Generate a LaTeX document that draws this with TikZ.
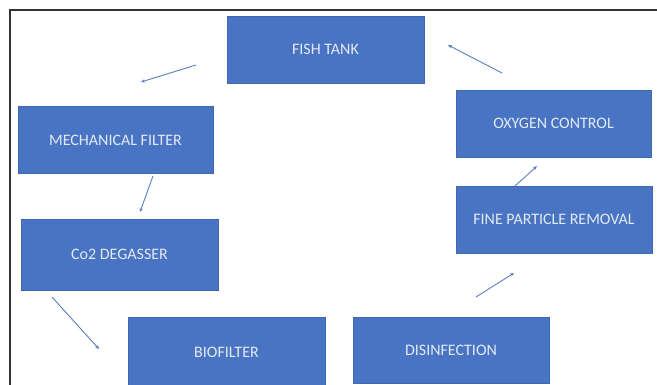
\documentclass[tikz,border=0pt]{standalone}
\usepackage{fontspec}
\setmainfont{Carlito}
\usetikzlibrary{arrows.meta}
\definecolor{boxblue}{HTML}{4874C3}
\definecolor{boxedge}{HTML}{4068B2}
\definecolor{arrowc}{HTML}{5A7DBE}
\definecolor{framec}{HTML}{333333}
\definecolor{textc}{HTML}{E4EAF5}
\tikzset{
  stagebox/.style={fill=boxblue, draw=boxedge, line width=0.6pt, text=textc,
    font=\fontsize{16}{18}\selectfont, inner sep=0pt},
  flowarrow/.style={draw=arrowc, line width=0.9pt, -{Stealth[length=4pt,width=3.5pt]}}
}
\begin{document}
\begin{tikzpicture}[x=1pt,y=-1pt]
\useasboundingbox (0,0) rectangle (657,385);
\draw[framec, line width=1.2pt] (657,10) -- (10,10) -- (10,385);
\node[stagebox, minimum width=197pt, minimum height=67pt] (fish) at (325.5,49.5) {FISH TANK};
\node[stagebox, minimum width=195pt, minimum height=67pt] (mech) at (115.5,140) {MECHANICAL FILTER};
\node[stagebox, minimum width=197pt, minimum height=71pt] (co2) at (119.5,254.5) {Co2 DEGASSER};
\node[stagebox, minimum width=197pt, minimum height=70pt] (bio) at (226.5,352) {BIOFILTER};
\node[stagebox, minimum width=196pt, minimum height=66pt] (dis) at (451,350) {DISINFECTION};
\node[stagebox, minimum width=196pt, minimum height=67pt] (fine) at (554,219.5) {FINE PARTICLE REMOVAL};
\node[stagebox, minimum width=195pt, minimum height=67pt] (oxy) at (553.5,123.5) {OXYGEN CONTROL};
\coordinate (a1s) at (196,65);  \coordinate (a1e) at (141,82);
\coordinate (a2s) at (153,176); \coordinate (a2e) at (140,212);
\coordinate (a3s) at (52,297);  \coordinate (a3e) at (99,349);
\coordinate (a4s) at (476,297); \coordinate (a4e) at (514,273);
\coordinate (a5s) at (515,186); \coordinate (a5e) at (537,166);
\coordinate (a6s) at (502,73);  \coordinate (a6e) at (448,45);
\draw[flowarrow] (a1s) -- (a1e);
\draw[flowarrow] (a2s) -- (a2e);
\draw[flowarrow] (a3s) -- (a3e);
\draw[flowarrow] (a4s) -- (a4e);
\draw[flowarrow] (a5s) -- (a5e);
\draw[flowarrow] (a6s) -- (a6e);
\end{tikzpicture}
\end{document}
